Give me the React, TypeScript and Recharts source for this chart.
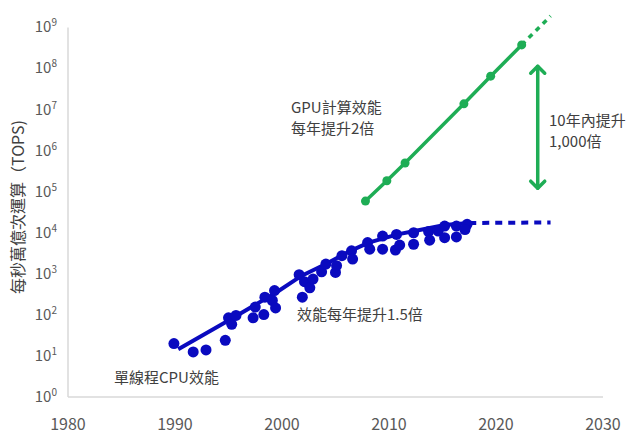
import React from 'react';
import {
  ComposedChart,
  Line,
  Scatter,
  XAxis,
  YAxis,
  ReferenceLine,
} from 'recharts';

// single-thread CPU performance, scatter
const cpuYears = [
  1989.9, 1991.7, 1992.9, 1994.7, 1995.0, 1995.3, 1995.7, 1997.3, 1997.5, 1998.3,
  1998.4, 1999.1, 1999.4, 1999.3, 2001.6, 2001.9, 2002.1, 2002.6, 2002.9, 2003.7,
  2004.1, 2005.0, 2005.1, 2005.6, 2006.5, 2006.6, 2008.0, 2008.2, 2009.4, 2009.4,
  2010.7, 2010.6, 2011.0, 2012.3, 2012.3, 2013.7, 2013.8, 2014.6, 2015.2, 2015.2,
  2016.3, 2016.3, 2017.3, 2017.1,
];
const cpuTops = [
  20, 12.5, 14, 24, 85, 59, 97, 85, 155, 102,
  270, 224, 148, 390, 950, 270, 645, 455, 745, 1120,
  1730, 1080, 1580, 2770, 3640, 2280, 5760, 3980, 8300, 3980,
  9100, 3800, 5000, 10000, 5250, 10700, 6600, 11000, 14500, 7600,
  14500, 7900, 16000, 12000,
];

// CPU trend (1.5x per year), then flattening
const cpuTrendYears = [1990.3, 1995, 1999.5, 2001.8, 2004.1, 2006.4, 2008.1, 2010.8, 2012.4, 2015.2, 2017.5];
const cpuTrendTops = [14.5, 73, 355, 890, 1740, 3630, 5750, 9150, 11000, 15400, 17300];
const cpuExtYears = [2017.5, 2025.1];
const cpuExtTops = [17300, 17800];

// GPU compute (2x per year)
const gpuYears = [2007.8, 2009.8, 2011.5, 2017.0, 2019.5, 2022.4];
const gpuTops = [59000, 184000, 500000, 13.8e6, 65e6, 375e6];
const gpuExtYears = [2022.4, 2025.1];
const gpuExtTops = [375e6, 1.9e9];

// 1,000x arrow
const arrowYear = 2023.9;
const arrowTops = [1.2e8, 1.15e5];

const xTicks = [1980, 1990, 2000, 2010, 2020, 2030];
const yTicks = [1, 10, 100, 1e3, 1e4, 1e5, 1e6, 1e7, 1e8, 1e9];

const zip = (xs: number[], ys: number[]) => xs.map((year, i) => ({ year, tops: ys[i] }));

const BLUE = '#0a0abf';
const GREEN = '#1ead55';
const FONT = '"Noto Sans CJK TC", "Noto Sans", sans-serif';

const XTick = ({ x, y, payload }: any) => (
  <text x={x} y={y + 25} textAnchor="middle" fontSize={16} fill="#595959" fontFamily={FONT}>
    {payload.value}
  </text>
);

const YTick = ({ y, payload }: any) => {
  const exp = Math.round(Math.log10(payload.value));
  return (
    <text x={57} y={y + 5} textAnchor="end" fontSize={15} fill="#595959" fontFamily={FONT}>
      <tspan>10</tspan>
      <tspan dy={-6} fontSize={10}>{exp}</tspan>
    </text>
  );
};

const Arrow = (props: any) => {
  const { x1, y1, x2, y2 } = props;
  const top = Math.min(y1, y2);
  const bot = Math.max(y1, y2);
  return (
    <g stroke={GREEN} strokeWidth={3.5} fill="none" strokeLinecap="round" strokeLinejoin="round">
      <line x1={x1} y1={top + 1} x2={x2} y2={bot - 1} />
      <polyline points={`${x1 - 7},${top + 8} ${x1},${top + 1} ${x1 + 7},${top + 8}`} />
      <polyline points={`${x1 - 7},${bot - 8} ${x1},${bot - 1} ${x1 + 7},${bot - 8}`} />
    </g>
  );
};

const Dot = (props: any) => <circle cx={props.cx} cy={props.cy} r={5.5} fill={BLUE} />;

const textStyle = { fontSize: 15, fill: '#404040', fontFamily: FONT };

export default function App() {
  return (
    <div style={{ position: 'absolute', left: 0, top: 0, width: 628, height: 435, background: '#fff' }}>
      <ComposedChart width={628} height={435} margin={{ top: 11, right: 25, left: 0, bottom: 0 }}>
        <XAxis
          type="number"
          dataKey="year"
          domain={[1980, 2030]}
          ticks={xTicks}
          tick={<XTick />}
          tickLine={false}
          axisLine={{ stroke: '#d9d9d9', strokeWidth: 1.5 }}
          height={38}
          allowDataOverflow
        />
        <YAxis
          dataKey="tops"
          scale="log"
          domain={[1, Math.pow(10, 9.4)]}
          ticks={yTicks}
          tick={<YTick />}
          tickLine={false}
          axisLine={false}
          width={68}
          allowDataOverflow
        />
        <ReferenceLine
          segment={[{ x: 1980, y: 1 }, { x: 1980, y: 1e9 }]}
          stroke="#d9d9d9"
          strokeWidth={1.5}
        />
        <Line
          data={zip(cpuTrendYears, cpuTrendTops)}
          dataKey="tops"
          stroke={BLUE}
          strokeWidth={4}
          dot={false}
          type="linear"
          isAnimationActive={false}
        />
        <Line
          data={zip(cpuExtYears, cpuExtTops)}
          dataKey="tops"
          stroke={BLUE}
          strokeWidth={4}
          strokeDasharray="7 6"
          dot={false}
          isAnimationActive={false}
        />
        <Scatter data={zip(cpuYears, cpuTops)} fill={BLUE} shape={<Dot />} isAnimationActive={false} />
        <Line
          data={zip(gpuExtYears, gpuExtTops)}
          dataKey="tops"
          stroke={GREEN}
          strokeWidth={3.5}
          strokeDasharray="5 5"
          dot={false}
          isAnimationActive={false}
        />
        <Line
          data={zip(gpuYears, gpuTops)}
          dataKey="tops"
          stroke={GREEN}
          strokeWidth={3.5}
          dot={{ r: 4.5, fill: GREEN, stroke: 'none' }}
          isAnimationActive={false}
        />
        <ReferenceLine
          segment={[{ x: arrowYear, y: arrowTops[0] }, { x: arrowYear, y: arrowTops[1] }]}
          shape={<Arrow />}
        />
        <text x={17} y={207} transform="rotate(-90 17 207)" textAnchor="middle" dominantBaseline="central" fontSize={16} fill="#404040" fontFamily={FONT}>
          每秒萬億次運算（TOPS)
        </text>
        <text x={291} y={113} {...textStyle}>GPU計算效能</text>
        <text x={291} y={134} {...textStyle}>每年提升2倍</text>
        <text x={549} y={126} {...textStyle}>10年內提升</text>
        <text x={549} y={147} {...textStyle}>1,000倍</text>
        <text x={297} y={320} {...textStyle}>效能每年提升1.5倍</text>
        <text x={114} y={383} {...textStyle}>單線程CPU效能</text>
      </ComposedChart>
    </div>
  );
}
